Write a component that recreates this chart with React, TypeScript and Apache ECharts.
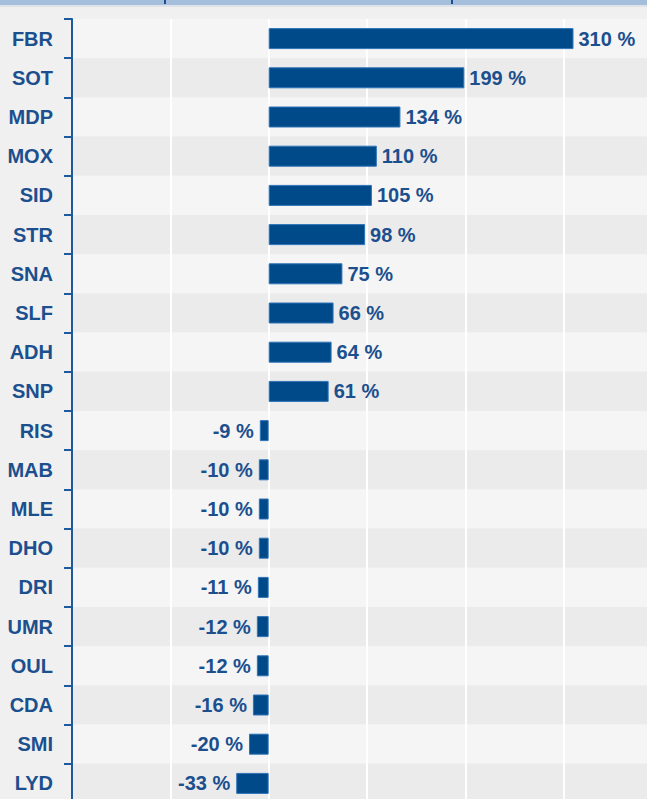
import React, { useEffect, useRef } from "react";
import * as echarts from "echarts";

const categories = ["FBR", "SOT", "MDP", "MOX", "SID", "STR", "SNA", "SLF", "ADH", "SNP", "RIS", "MAB", "MLE", "DHO", "DRI", "UMR", "OUL", "CDA", "SMI", "LYD"];
const values = [310, 199, 134, 110, 105, 98, 75, 66, 64, 61, -9, -10, -10, -10, -11, -12, -12, -16, -20, -33];

const textColor = "#1b4f8e";
const fontFamily = "'Liberation Sans', Arial, sans-serif";

export default function App() {
  const ref = useRef<HTMLDivElement>(null);
  useEffect(() => {
    if (!ref.current) return;
    const chart = echarts.init(ref.current, undefined, { renderer: "svg" });
    const labelBase = {
      show: true,
      distance: 5,
      formatter: (p: any) => `${p.value} %`,
      color: textColor,
      fontSize: 20,
      fontWeight: "bold",
      fontFamily,
    };
    chart.setOption({
      animation: false,
      backgroundColor: "#f0f0f0",
      graphic: [
        { type: "rect", left: 0, top: 0, shape: { width: 700, height: 5 }, style: { fill: "#a3bfdc" } },
        { type: "rect", left: 0, top: 5, shape: { width: 700, height: 2 }, style: { fill: "#dfe3e8" } },
        { type: "rect", left: 164, top: 0, shape: { width: 2, height: 4 }, style: { fill: "#1b4f8e" } },
        { type: "rect", left: 451, top: 0, shape: { width: 2, height: 4 }, style: { fill: "#1b4f8e" } },
      ],
      grid: { left: 72, top: 19, width: 590, height: 784, containLabel: false, outerBoundsMode: "none" },
      xAxis: {
        type: "value",
        min: -200,
        max: 400,
        interval: 100,
        axisLine: { show: false },
        axisTick: { show: false },
        axisLabel: { show: false },
        splitLine: { show: true, lineStyle: { color: "#ffffff", width: 2 } },
      },
      yAxis: {
        type: "category",
        inverse: true,
        data: categories,
        axisLine: { show: true, onZero: false, lineStyle: { color: "#1b5a9c", width: 2 } },
        axisTick: { show: true, length: 8, lineStyle: { color: "#1b5a9c", width: 2 } },
        axisLabel: { margin: 19, color: textColor, fontSize: 20, fontWeight: "bold", fontFamily },
        splitArea: { show: true, areaStyle: { color: ["#f5f5f5", "#ebebeb"] } },
        splitLine: { show: false },
      },
      series: [
        {
          type: "bar",
          data: values.map((v) => ({
            value: v,
            label: { position: v < 0 ? "left" : "right", distance: v < 0 ? 6 : 5 },
          })),
          barWidth: 21,
          itemStyle: { color: "#014a89", borderColor: "#2f74b9", borderWidth: 1 },
          label: labelBase,
        },
      ],
    });
    return () => chart.dispose();
  }, []);
  return (
    <div
      ref={ref}
      style={{ position: "fixed", left: 0, top: 0, width: 670, height: 810 }}
    />
  );
}
